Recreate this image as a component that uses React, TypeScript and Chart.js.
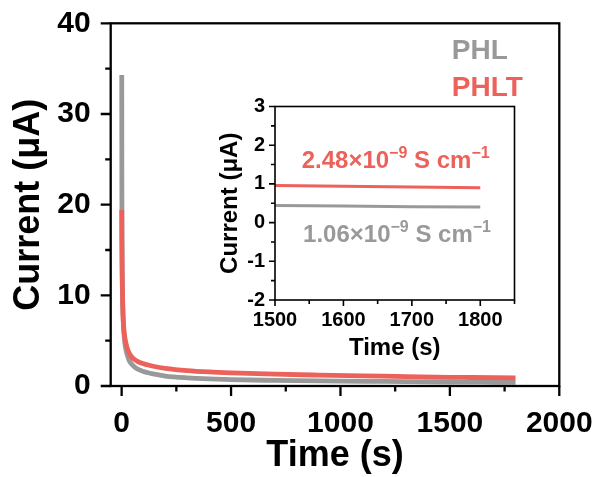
import React, { useEffect, useRef } from 'react';
import { Chart, registerables } from 'chart.js';

Chart.register(...registerables);

// ---- data ----
const times = [0.5, 1, 2, 3, 5, 8, 12, 18, 25, 35, 50, 70, 100, 150, 200, 300, 400, 500, 700, 900, 1200, 1500, 1600, 1700, 1800];
const phl = [34.3, 22, 15, 12, 9, 6.8, 5.3, 4.2, 3.5, 2.8, 2.3, 1.9, 1.6, 1.3, 1.1, 0.9, 0.78, 0.7, 0.62, 0.56, 0.5, 0.44, 0.43, 0.41, 0.4];
const phlt = [19.4, 16, 13, 11, 8.8, 7, 5.8, 4.9, 4.2, 3.6, 3.1, 2.75, 2.45, 2.15, 1.95, 1.7, 1.55, 1.45, 1.3, 1.2, 1.08, 0.96, 0.94, 0.92, 0.9];
const seriesNames = ['PHL', 'PHLT'];
const mainXTicks = [0, 500, 1000, 1500, 2000];
const mainYTicks = [0, 10, 20, 30, 40];
const insetXTicks = [1500, 1600, 1700, 1800];
const insetYTicks = [-2, -1, 0, 1, 2, 3];
const insetStart = 1500;
const phltConductivity = ['2.48×10', '−9', ' S cm', '−1'];
const phlConductivity = ['1.06×10', '−9', ' S cm', '−1'];

const RED = 'rgb(236,97,90)';
const GRAY = 'rgb(153,153,153)';
const FONT = "'Liberation Sans', Arial, Helvetica, sans-serif";

const toPts = (ys: number[], from = -Infinity) =>
  times.map((t, i) => ({ x: t, y: ys[i] })).filter((p) => p.x >= from);

const setTicks = (vals: number[]) => (s: any) => {
  s.ticks = vals.map((v) => ({ value: v }));
};
const fixSize = (key: 'width' | 'height', v: number) => (s: any) => {
  s[key] = v;
  s.paddingLeft = 0;
  s.paddingRight = 0;
  s.paddingTop = 0;
  s.paddingBottom = 0;
};

// frame + major/minor ticks drawn from the scales
const axesPlugin = {
  id: 'axesFrame',
  afterDatasetsDraw(chart: any, _args: any, opts: any) {
    const { ctx, chartArea: a, scales } = chart;
    const xs = scales.x;
    const ys = scales.y;
    ctx.save();
    ctx.strokeStyle = '#000';
    ctx.lineWidth = opts.lineWidth;
    ctx.strokeRect(a.left, a.top, a.right - a.left, a.bottom - a.top);
    ctx.beginPath();
    const minors = (scale: any) => {
      const vals = scale.ticks.map((t: any) => t.value);
      const step = vals[1] - vals[0];
      const out: number[] = [];
      for (let v = vals[0] - step / 2; v <= scale.max + 1e-9; v += step) {
        if (v >= scale.min - 1e-9) out.push(v);
      }
      return out;
    };
    xs.ticks.forEach((t: any) => {
      const p = xs.getPixelForValue(t.value);
      ctx.moveTo(p, a.bottom);
      ctx.lineTo(p, a.bottom + opts.major);
    });
    minors(xs).forEach((v) => {
      const p = xs.getPixelForValue(v);
      ctx.moveTo(p, a.bottom);
      ctx.lineTo(p, a.bottom + opts.minor);
    });
    ys.ticks.forEach((t: any) => {
      const p = ys.getPixelForValue(t.value);
      ctx.moveTo(a.left, p);
      ctx.lineTo(a.left - opts.major, p);
    });
    minors(ys).forEach((v) => {
      const p = ys.getPixelForValue(v);
      ctx.moveTo(a.left, p);
      ctx.lineTo(a.left - opts.minor, p);
    });
    ctx.stroke();
    ctx.restore();
  },
};

// text labels anchored at data coordinates; segments alternate normal / superscript
const textPlugin = {
  id: 'dataTexts',
  afterDraw(chart: any, _args: any, opts: any) {
    const { ctx, scales } = chart;
    ctx.save();
    ctx.textBaseline = 'alphabetic';
    ctx.textAlign = 'left';
    (opts.items || []).forEach((it: any) => {
      let x = scales.x.getPixelForValue(it.x);
      const y = scales.y.getPixelForValue(it.y);
      ctx.fillStyle = it.color;
      it.segments.forEach((s: string, i: number) => {
        const sup = i % 2 === 1;
        ctx.font = `bold ${sup ? it.supSize : it.size}px ${FONT}`;
        ctx.fillText(s, x, sup ? y - it.raise : y);
        x += ctx.measureText(s).width;
      });
    });
    ctx.restore();
  },
};

export default function App() {
  const mainRef = useRef<HTMLCanvasElement>(null);
  const insetRef = useRef<HTMLCanvasElement>(null);

  useEffect(() => {
    const tickFont = { family: FONT, weight: 'bold' as const, size: 30 };
    const main = new Chart(mainRef.current!, {
      type: 'line',
      data: {
        datasets: [
          { label: seriesNames[0], data: toPts(phl), borderColor: GRAY, borderWidth: 4.8, pointRadius: 0, cubicInterpolationMode: 'monotone', order: 2 },
          { label: seriesNames[1], data: toPts(phlt), borderColor: RED, borderWidth: 4.8, pointRadius: 0, cubicInterpolationMode: 'monotone', order: 1 },
        ],
      },
      options: {
        responsive: false,
        animation: false,
        devicePixelRatio: 1,
        layout: { padding: { left: 0, top: 23.3, right: 37.7, bottom: 0 } },
        plugins: {
          legend: { display: false },
          tooltip: { enabled: false },
          axesFrame: { lineWidth: 2.3, major: 10, minor: 5.5 },
          dataTexts: {
            items: [
              { x: 1509, y: 36.1, segments: [seriesNames[0]], color: GRAY, size: 28, supSize: 18, raise: 0 },
              { x: 1509, y: 32.0, segments: [seriesNames[1]], color: RED, size: 28, supSize: 18, raise: 0 },
            ],
          },
        } as any,
        scales: {
          x: {
            type: 'linear',
            min: -50,
            max: 2000,
            ticks: { font: tickFont, color: '#000', padding: 20, maxRotation: 0, autoSkip: false, callback: (v: any) => String(v) },
            grid: { display: false, drawTicks: false },
            border: { display: false },
            title: { display: true, text: 'Time (s)', color: '#000', font: { family: FONT, weight: 'bold', size: 36, lineHeight: 1 }, padding: { top: 0, bottom: 3 } },
            afterBuildTicks: setTicks(mainXTicks),
            afterFit: fixSize('height', 91),
          },
          y: {
            type: 'linear',
            min: 0,
            max: 40,
            ticks: { font: tickFont, color: '#000', padding: 20, callback: (v: any) => String(v) },
            grid: { display: false, drawTicks: false },
            border: { display: false },
            title: { display: true, text: 'Current (μA)', color: '#000', font: { family: FONT, weight: 'bold', size: 36, lineHeight: 1 }, padding: { top: 11, bottom: 0 } },
            afterBuildTicks: setTicks(mainYTicks),
            afterFit: fixSize('width', 110.7),
          },
        },
      },
      plugins: [axesPlugin, textPlugin],
    } as any);

    const insetTick = { family: FONT, weight: 'bold' as const, size: 20 };
    const inset = new Chart(insetRef.current!, {
      type: 'line',
      data: {
        datasets: [
          { label: seriesNames[0], data: toPts(phl, insetStart), borderColor: GRAY, borderWidth: 3, pointRadius: 0, order: 2 },
          { label: seriesNames[1], data: toPts(phlt, insetStart), borderColor: RED, borderWidth: 3, pointRadius: 0, order: 1 },
        ],
      },
      options: {
        responsive: false,
        animation: false,
        devicePixelRatio: 1,
        layout: { padding: { left: 0, top: 10.5, right: 15.5, bottom: 0 } },
        plugins: {
          legend: { display: false },
          tooltip: { enabled: false },
          axesFrame: { lineWidth: 1.6, major: 6, minor: 4 },
          dataTexts: {
            items: [
              { x: 1539, y: 1.41, segments: phltConductivity, color: RED, size: 24, supSize: 16, raise: 10 },
              { x: 1541, y: -0.49, segments: phlConductivity, color: GRAY, size: 24, supSize: 16, raise: 10 },
            ],
          },
        } as any,
        scales: {
          x: {
            type: 'linear',
            min: 1500,
            max: 1850,
            ticks: { font: insetTick, color: '#000', padding: 8, maxRotation: 0, autoSkip: false, callback: (v: any) => String(v) },
            grid: { display: false, drawTicks: false },
            border: { display: false },
            title: { display: true, text: 'Time (s)', color: '#000', font: { family: FONT, weight: 'bold', size: 24, lineHeight: 1 }, padding: { top: 0, bottom: 10 } },
            afterBuildTicks: setTicks(insetXTicks),
            afterFit: fixSize('height', 70),
          },
          y: {
            type: 'linear',
            min: -2,
            max: 3,
            ticks: { font: insetTick, color: '#000', padding: 10, callback: (v: any) => String(v) },
            grid: { display: false, drawTicks: false },
            border: { display: false },
            title: { display: true, text: 'Current (μA)', color: '#000', font: { family: FONT, weight: 'bold', size: 24, lineHeight: 1 }, padding: { top: 18, bottom: 0 } },
            afterBuildTicks: setTicks(insetYTicks),
            afterFit: fixSize('width', 75),
          },
        },
      },
      plugins: [axesPlugin, textPlugin],
    } as any);

    return () => {
      main.destroy();
      inset.destroy();
    };
  }, []);

  return (
    <div style={{ position: 'absolute', left: 0, top: 0, width: 597, height: 477, background: '#fff' }}>
      <canvas ref={mainRef} width={597} height={477} style={{ position: 'absolute', left: 0, top: 0, display: 'block' }} />
      <canvas ref={insetRef} width={330} height={274} style={{ position: 'absolute', left: 200, top: 96, display: 'block' }} />
    </div>
  );
}
